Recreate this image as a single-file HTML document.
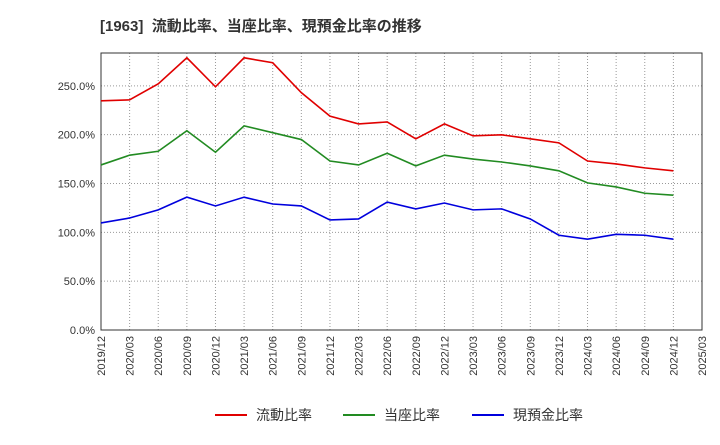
<!DOCTYPE html>
<html><head><meta charset="utf-8"><style>
body{margin:0;background:#fff;font-family:"Liberation Sans","Noto Sans CJK JP",sans-serif;}
svg text{font-family:"Liberation Sans","Noto Sans CJK JP",sans-serif;}
</style></head><body>
<svg id="chart" width="720" height="440" xmlns="http://www.w3.org/2000/svg">
<text x="100" y="31" font-size="15" font-weight="bold" fill="#333" style="white-space:pre" xml:space="preserve">[1963]  流動比率、当座比率、現預金比率の推移</text>
<g id="grid"></g><g id="axes"></g><g id="series"></g><g id="legend"></g>
</svg>
<script>
const categories=["2019/12","2020/03","2020/06","2020/09","2020/12","2021/03","2021/06","2021/09","2021/12","2022/03","2022/06","2022/09","2022/12","2023/03","2023/06","2023/09","2023/12","2024/03","2024/06","2024/09","2024/12","2025/03"];
const currentRatio=[234.6,235.6,252,278.7,249,278.7,273.6,243,219,211,213,195.7,211,198.8,199.8,195.7,191.6,173,170,166,163];
const quickRatio=[169,179,183,204,182,209,202,195,173,169,181,168,179,175,172,168,163,150.6,146.5,140,138];
const cashRatio=[109.6,114.7,123,136,127,136,129,127,112.7,113.7,131,124,130,123,124,113.7,97,93,98,97,93];
const yTicks=[0,50,100,150,200,250];
const seriesNames=["流動比率","当座比率","現預金比率"];
const colors=["#e00000","#228b22","#0000dd"];
const L=101,R=702,T=53,B=330,yMax=283.6;
const NS="http://www.w3.org/2000/svg";
const xs=i=>L+(R-L)*i/(categories.length-1);
const ys=v=>B-(B-T)*v/yMax;
function mk(tag,attrs,parent){const e=document.createElementNS(NS,tag);for(const k in attrs)e.setAttribute(k,attrs[k]);document.getElementById(parent).appendChild(e);return e;}
categories.forEach((c,i)=>{
 const g=mk("line",{x1:xs(i),x2:xs(i),y1:T,y2:B,stroke:"#999","stroke-dasharray":"1,2","stroke-width":1},"grid");
 
 
 const x=xs(i),y=B+6;
 const t=mk("text",{x:x,y:y,"font-size":11,fill:"#333","text-anchor":"end",transform:`rotate(-90 ${x} ${y})`,dy:"4"},"axes");
 t.textContent=c;
 
 
});
yTicks.forEach(v=>{
 const g=mk("line",{x1:L,x2:R,y1:ys(v),y2:ys(v),stroke:"#999","stroke-dasharray":"1,2","stroke-width":1},"grid");
 
 
 const t=mk("text",{x:L-6,y:ys(v)+4,"font-size":11,fill:"#333","text-anchor":"end"},"axes");
 t.textContent=v.toFixed(1)+"%";
 
 
});
const fr=mk("rect",{x:L,y:T,width:R-L,height:B-T,fill:"none",stroke:"#333","stroke-width":1},"axes");


[currentRatio,quickRatio,cashRatio].forEach((arr,si)=>{
 const p=mk("polyline",{points:arr.map((v,i)=>xs(i)+","+ys(v)).join(" "),fill:"none",stroke:colors[si],"stroke-width":1.6},"series");
 
 
});
const lx=[215,343,472];
seriesNames.forEach((n,i)=>{
 const l=mk("line",{x1:lx[i],x2:lx[i]+32,y1:415,y2:415,stroke:colors[i],"stroke-width":2},"legend");
 
 
 const t=mk("text",{x:lx[i]+41,y:420,"font-size":14,fill:"#333"},"legend");
 t.textContent=n;
 
 
});
</script>
</body></html>
